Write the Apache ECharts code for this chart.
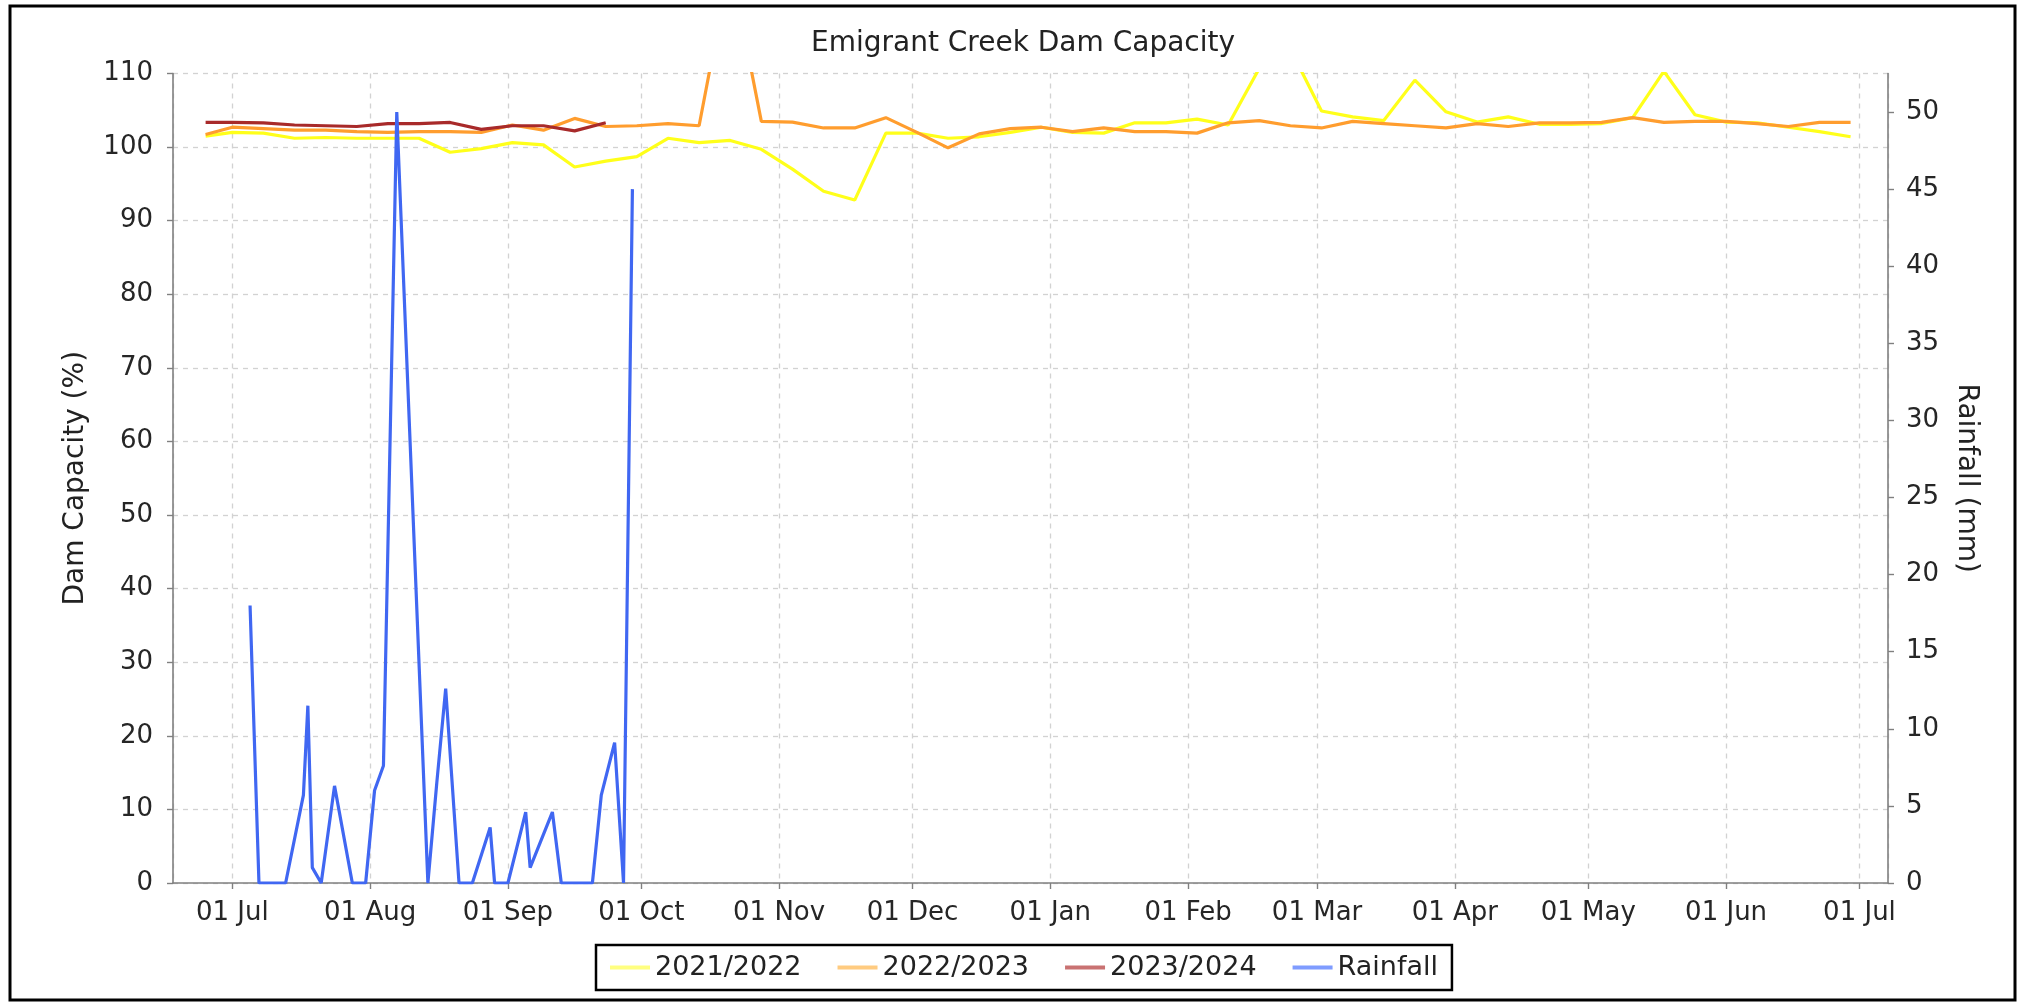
<!DOCTYPE html>
<html>
<head>
<meta charset="utf-8">
<title>Emigrant Creek Dam Capacity</title>
<script src="https://cdn.jsdelivr.net/npm/echarts@6/dist/echarts.min.js"></script>
<style>
  html, body { margin: 0; padding: 0; background: #fff; }
  #chart { width: 2022px; height: 1005px; }
</style>
</head>
<body>
<div id="chart"></div>
<script>
// weekly dam readings (season Jul -> Jun, shown on one year axis)
var capDates = [
  '2023-06-25', '2023-07-01', '2023-07-08', '2023-07-15', '2023-07-22', '2023-07-29',
  '2023-08-05', '2023-08-12', '2023-08-19', '2023-08-26',
  '2023-09-02', '2023-09-09', '2023-09-16', '2023-09-23', '2023-09-30',
  '2023-10-07', '2023-10-14', '2023-10-21', '2023-10-28',
  '2023-11-04', '2023-11-11', '2023-11-18', '2023-11-25',
  '2023-12-02', '2023-12-09', '2023-12-16', '2023-12-23', '2023-12-30',
  '2024-01-06', '2024-01-13', '2024-01-20', '2024-01-27',
  '2024-02-03', '2024-02-10', '2024-02-17', '2024-02-24',
  '2024-03-02', '2024-03-09', '2024-03-16', '2024-03-23', '2024-03-30',
  '2024-04-06', '2024-04-13', '2024-04-20', '2024-04-27',
  '2024-05-04', '2024-05-11', '2024-05-18', '2024-05-25',
  '2024-06-01', '2024-06-08', '2024-06-15', '2024-06-22', '2024-06-29'
];
var cap2122 = [
  101.5, 102.0, 101.9, 101.2, 101.3, 101.2,
  101.2, 101.2, 99.3, 99.8,
  100.6, 100.3, 97.3, 98.1, 98.7,
  101.2, 100.6, 100.9, 99.7,
  97.0, 94.0, 92.8, 101.9,
  101.9, 101.2, 101.4, 102.0, 102.7,
  102.0, 101.9, 103.3, 103.3,
  103.8, 103.0, 110.7, 113.3,
  104.9, 104.1, 103.6, 109.1, 104.8,
  103.4, 104.1, 103.1, 103.1,
  103.2, 104.0, 110.3, 104.4,
  103.4, 103.3, 102.7, 102.1, 101.4
];
var cap2223 = [
  101.7, 102.7, 102.5, 102.3, 102.3, 102.1,
  102.0, 102.1, 102.1, 102.0,
  103.0, 102.3, 103.9, 102.8, 102.9,
  103.2, 102.9, 125.0, 103.5,
  103.4, 102.6, 102.6, 104.0,
  102.0, 99.9, 101.8, 102.5, 102.7,
  102.1, 102.6, 102.1, 102.1,
  101.9, 103.3, 103.6, 102.9,
  102.6, 103.5, 103.2, 102.9, 102.6,
  103.2, 102.8, 103.3, 103.3,
  103.35, 104.0, 103.35, 103.5,
  103.5, 103.2, 102.8, 103.35, 103.35
];
var cap2324 = [
  103.35, 103.35, 103.3, 103.0, 102.9, 102.8,
  103.2, 103.2, 103.35, 102.4,
  102.9, 102.9, 102.2, 103.3
];

// rainfall (mm), current season only
var rainDates = [
  '2023-07-05', '2023-07-07', '2023-07-13', '2023-07-17', '2023-07-18', '2023-07-19',
  '2023-07-21', '2023-07-24', '2023-07-28', '2023-07-31',
  '2023-08-02', '2023-08-04', '2023-08-07', '2023-08-14', '2023-08-16', '2023-08-18',
  '2023-08-21', '2023-08-24', '2023-08-28', '2023-08-29',
  '2023-09-01', '2023-09-05', '2023-09-06', '2023-09-11', '2023-09-13',
  '2023-09-20', '2023-09-22', '2023-09-25', '2023-09-27', '2023-09-29'
];
var rainMm = [
  18.0, 0, 0, 5.7, 11.5, 1.0,
  0, 6.3, 0, 0,
  6.0, 7.6, 50.0, 0, 6.5, 12.6,
  0, 0, 3.6, 0,
  0, 4.6, 1.0, 4.6, 0,
  0, 5.7, 9.1, 0, 45.0
];

var seriesNames = ['2021/2022', '2022/2023', '2023/2024', 'Rainfall'];
var lineColors = ['#ffff1a', '#ff9d2e', '#a82a2a', '#4067f2'];
var legendColors = ['#ffff80', '#ffcb80', '#c97272', '#7f9cff'];
var capTicks = [0, 110, 10];   // min, max, step
var rainTicks = [0, 52.5, 5];
var monthNames = ['Jan', 'Feb', 'Mar', 'Apr', 'May', 'Jun', 'Jul', 'Aug', 'Sep', 'Oct', 'Nov', 'Dec'];

var FONT = 'DejaVu Sans';

function zip(xs, ys) {
  var out = [];
  for (var i = 0; i < xs.length; i++) out.push([xs[i], ys[i]]);
  return out;
}

function lineSeries(idx, data, axisIdx) {
  return {
    name: seriesNames[idx],
    type: 'line',
    yAxisIndex: axisIdx,
    data: data,
    showSymbol: false,
    symbol: 'none',
    clip: true,
    lineStyle: { color: lineColors[idx], width: 3.2 },
    itemStyle: { color: lineColors[idx] },
    animation: false
  };
}

var chart = echarts.init(document.getElementById('chart'));

var option = {
  backgroundColor: '#fff',
  title: {
    text: 'Emigrant Creek Dam Capacity',
    left: 1018,
    top: 25,
    textAlign: 'center',
    textStyle: { fontFamily: FONT, fontSize: 28, fontWeight: 'normal', color: '#222' }
  },
  graphic: [{
    type: 'rect',
    shape: { x: 10, y: 6, width: 2005, height: 994 },
    style: { fill: 'none', stroke: '#000', lineWidth: 3 },
    silent: true
  }],
  legend: {
    data: seriesNames.map(function (n, i) {
      return { name: n, itemStyle: { color: legendColors[i] } };
    }),
    icon: 'rect',
    itemWidth: 40,
    itemHeight: 4,
    itemGap: 36,
    left: 596,
    top: 945,
    padding: [9, 14],
    borderColor: '#000',
    borderWidth: 2.5,
    borderRadius: 0,
    textStyle: { fontFamily: FONT, fontSize: 27, color: '#222' }
  },
  grid: { left: 173, right: 134, top: 73.5, bottom: 122 },
  xAxis: {
    type: 'time',
    min: '2023-06-17 16:00',
    max: '2024-07-07 10:00',
    splitNumber: 12,
    axisLine: { lineStyle: { color: '#808080', width: 1.6 } },
    axisTick: { length: 6, lineStyle: { color: '#808080', width: 1.4 } },
    axisLabel: {
      showMinLabel: false,
      showMaxLabel: false,
      margin: 17,
      fontFamily: FONT,
      fontSize: 26,
      color: '#262626',
      formatter: function (v) {
        var d = new Date(v);
        var dd = d.getDate();
        return (dd < 10 ? '0' + dd : dd) + ' ' + monthNames[d.getMonth()];
      }
    },
    splitLine: { show: true, lineStyle: { color: '#d2d2d2', type: [5, 5], width: 1.3 } }
  },
  yAxis: [{
    type: 'value',
    name: 'Dam Capacity (%)',
    nameLocation: 'middle',
    nameGap: 83,
    nameTextStyle: { fontFamily: FONT, fontSize: 28, color: '#222' },
    min: capTicks[0],
    max: capTicks[1],
    interval: capTicks[2],
    axisLine: { show: true, lineStyle: { color: '#808080', width: 1.6 } },
    axisTick: { show: true, length: 6, lineStyle: { color: '#808080', width: 1.4 } },
    axisLabel: { margin: 20, fontFamily: FONT, fontSize: 26, color: '#262626' },
    splitLine: { show: true, lineStyle: { color: '#d2d2d2', type: [5, 5], width: 1.3 } }
  }, {
    type: 'value',
    position: 'right',
    name: 'Rainfall (mm)',
    nameLocation: 'middle',
    nameRotate: -90,
    nameGap: 64,
    nameTextStyle: { fontFamily: FONT, fontSize: 28, color: '#222' },
    min: rainTicks[0],
    max: rainTicks[1],
    interval: rainTicks[2],
    axisLine: { show: true, lineStyle: { color: '#808080', width: 1.6 } },
    axisTick: { show: true, length: 6, lineStyle: { color: '#808080', width: 1.4 } },
    axisLabel: { showMaxLabel: false, margin: 18, fontFamily: FONT, fontSize: 26, color: '#262626' },
    splitLine: { show: false }
  }],
  series: [
    lineSeries(0, zip(capDates, cap2122), 0),
    lineSeries(1, zip(capDates, cap2223), 0),
    lineSeries(2, zip(capDates.slice(0, cap2324.length), cap2324), 0),
    lineSeries(3, zip(rainDates, rainMm), 1)
  ]
};

chart.setOption(option);
window.onresize = function () {
  chart.resize();
};
</script>
</body>
</html>
